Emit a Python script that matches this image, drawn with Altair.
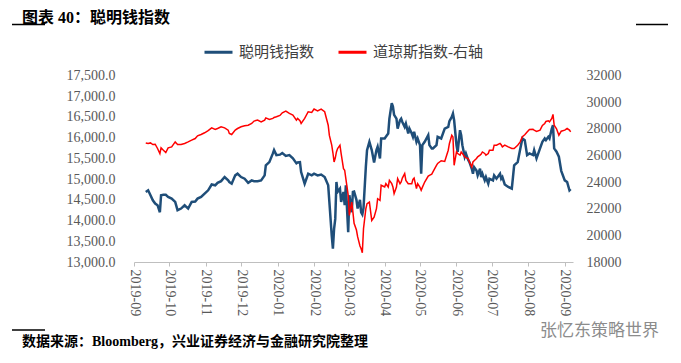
import altair as alt
import pandas as pd

dates = [
    "2019-09-11", "2019-09-13", "2019-09-15", "2019-09-17", "2019-09-19", "2019-09-21",
    "2019-09-23", "2019-09-24", "2019-09-26", "2019-09-28", "2019-09-30", "2019-10-03",
    "2019-10-06", "2019-10-08", "2019-10-11", "2019-10-14", "2019-10-17", "2019-10-20",
    "2019-10-23", "2019-10-25", "2019-10-28", "2019-10-31", "2019-11-03", "2019-11-06",
    "2019-11-09", "2019-11-11", "2019-11-14", "2019-11-17", "2019-11-20", "2019-11-21",
    "2019-11-23", "2019-11-26", "2019-11-28", "2019-12-01", "2019-12-04", "2019-12-07",
    "2019-12-10", "2019-12-12", "2019-12-15", "2019-12-18", "2019-12-21", "2019-12-22",
    "2019-12-25", "2019-12-28", "2019-12-29", "2019-12-31", "2020-01-03", "2020-01-05",
    "2020-01-08", "2020-01-11", "2020-01-14", "2020-01-17", "2020-01-18", "2020-01-20",
    "2020-01-21", "2020-01-24", "2020-01-27", "2020-01-30", "2020-02-01", "2020-02-04",
    "2020-02-07", "2020-02-10", "2020-02-13", "2020-02-14", "2020-02-16", "2020-02-17",
    "2020-02-18", "2020-02-19", "2020-02-20", "2020-02-21", "2020-02-23", "2020-02-24",
    "2020-02-26", "2020-02-27", "2020-02-28", "2020-03-01", "2020-03-02", "2020-03-04",
    "2020-03-05", "2020-03-06", "2020-03-08", "2020-03-09", "2020-03-11", "2020-03-12",
    "2020-03-13", "2020-03-14", "2020-03-16", "2020-03-17", "2020-03-19", "2020-03-21",
    "2020-03-23", "2020-03-25", "2020-03-26", "2020-03-28", "2020-03-29", "2020-04-01",
    "2020-04-02", "2020-04-04", "2020-04-05", "2020-04-07", "2020-04-08", "2020-04-09",
    "2020-04-11", "2020-04-12", "2020-04-14", "2020-04-15", "2020-04-16", "2020-04-18",
    "2020-04-19", "2020-04-21", "2020-04-22", "2020-04-24", "2020-04-25", "2020-04-26",
    "2020-04-28", "2020-04-29", "2020-05-01", "2020-05-02", "2020-05-03", "2020-05-05",
    "2020-05-08", "2020-05-09", "2020-05-11", "2020-05-12", "2020-05-15", "2020-05-16",
    "2020-05-19", "2020-05-22", "2020-05-25", "2020-05-26", "2020-05-28", "2020-05-29",
    "2020-05-30", "2020-06-01", "2020-06-02", "2020-06-04", "2020-06-05", "2020-06-06",
    "2020-06-08", "2020-06-09", "2020-06-11", "2020-06-12", "2020-06-14", "2020-06-15",
    "2020-06-16", "2020-06-18", "2020-06-19", "2020-06-21", "2020-06-22", "2020-06-23",
    "2020-06-25", "2020-06-26", "2020-06-28", "2020-06-29", "2020-07-02", "2020-07-03",
    "2020-07-05", "2020-07-08", "2020-07-09", "2020-07-10", "2020-07-12", "2020-07-15",
    "2020-07-18", "2020-07-19", "2020-07-20", "2020-07-23", "2020-07-25", "2020-07-27",
    "2020-07-29", "2020-07-31", "2020-08-02", "2020-08-05", "2020-08-06", "2020-08-08",
    "2020-08-11", "2020-08-13", "2020-08-15", "2020-08-16", "2020-08-18", "2020-08-19",
    "2020-08-21", "2020-08-22", "2020-08-23", "2020-08-25", "2020-08-27", "2020-08-29",
    "2020-09-01", "2020-09-03", "2020-09-05", "2020-09-06",
]

smart_money = [
    14690, 14730, 14610, 14490, 14410, 14370,
    14200, 14610, 14620, 14620, 14570, 14530,
    14450, 14250, 14290, 14370, 14290, 14450,
    14460, 14530, 14570, 14650, 14730, 14870,
    14850, 14910, 14950, 15050, 14970, 14930,
    14890, 15090, 15130, 15050, 15010, 14910,
    14970, 14950, 14950, 14970, 15090, 15330,
    15410, 15620, 15700, 15580, 15590, 15630,
    15560, 15580, 15500, 15380, 15400, 15410,
    15170, 14890, 15130, 15090, 15130, 15090,
    15110, 15050, 14850, 14450, 13640, 13320,
    13800, 14040, 14930, 14690, 14770, 14450,
    14690, 14370, 14850, 13720, 14610, 14200,
    14690, 14700, 14500, 14290, 14500, 14200,
    14150, 14300, 15300, 15700, 15900, 15700,
    15400, 15700, 15780, 15500, 15980, 15980,
    16020, 16100, 16460, 16830, 16750, 16550,
    16460, 16220, 16420, 16460, 16380, 16260,
    16340, 16100, 16220, 16100, 16020, 16140,
    15900, 15980, 15820, 15130, 15820, 15900,
    16060, 15820, 15740, 15740, 15820, 16020,
    15980, 16220, 16260, 16400, 16500, 16580,
    16420, 15820, 15660, 16180, 16060, 15820,
    15540, 15620, 15460, 15410, 15250, 15130,
    15290, 15210, 15090, 15250, 15050, 15130,
    14970, 15050, 14890, 15010, 14970, 15090,
    15010, 15130, 15010, 15050, 14870, 14810,
    14770, 15050, 15330, 15410, 15700, 15980,
    15940, 15580, 15620, 15580, 15700, 15500,
    15740, 15900, 15980, 15940, 16020, 15980,
    16220, 16300, 15740, 15660, 15540, 15200,
    14970, 14930, 14730, 14760,
]

dow_jones = [
    26940, 26900, 26940, 26820, 26840, 26520,
    26140, 26570, 26390, 26220, 26570, 26640,
    27020, 26820, 26820, 26900, 27020, 27150,
    27270, 27470, 27570, 27700, 27860, 28070,
    27950, 28020, 28150, 28070, 27900, 27650,
    27570, 27900, 28020, 28150, 28220, 28270,
    28400, 28580, 28650, 28520, 28650, 28820,
    28700, 28780, 28850, 28900, 29000, 29200,
    29330, 29150, 29030, 28650, 28780, 28600,
    28400, 28780, 29280, 29230, 29480, 29350,
    29480, 29280, 28270, 27500, 26770, 26200,
    25510, 25800, 26260, 26520, 26770, 26140,
    25010, 24890, 24260, 23000, 21500, 22500,
    21750, 20900, 20400, 19900, 19200, 18990,
    18700, 20500, 22000, 22380, 22500, 21120,
    21370, 22000, 22750, 22630, 23760, 23630,
    23880, 23630, 24130, 23880, 23630, 23130,
    23630, 24260, 23880, 24010, 24300, 24640,
    24130, 23880, 23880, 23880, 24200, 24300,
    23510, 23880, 23600, 23380, 23600, 24000,
    24450, 24510, 24600, 24760, 25260, 25400,
    25600, 25550, 26390, 26900, 27520, 27390,
    25260, 26260, 26140, 26020, 26260, 26140,
    25890, 25830, 25770, 25510, 25130, 25510,
    25600, 25770, 25900, 26020, 26100, 26260,
    26150, 26020, 26140, 26390, 26390, 26770,
    26770, 26900, 26800, 26640, 26770, 26640,
    26520, 26520, 26520, 26770, 27000, 27400,
    27550, 27750, 27950, 27960, 27900, 27800,
    27900, 28250, 28400, 28550, 28600, 28520,
    28780, 29080, 28270, 28000, 27520, 27820,
    27900, 28020, 27900, 27770,
]

left_ticks = [13000, 13500, 14000, 14500, 15000, 15500, 16000, 16500, 17000, 17500]
right_ticks = [18000, 20000, 22000, 24000, 26000, 28000, 30000, 32000]

S1 = "聪明钱指数"
S2 = "道琼斯指数-右轴"
BLUE = "#1F4E79"
RED = "#FF0000"
GRAY = "#595959"
SERIF = "Liberation Serif, Noto Sans CJK SC, serif"

df1 = pd.DataFrame({"date": dates, "value": smart_money, "series": S1})
df2 = pd.DataFrame({"date": dates, "value": dow_jones, "series": S2})
one = pd.DataFrame({"k": [0]})

x_enc = alt.X(
    "date:T",
    scale=alt.Scale(
        type="utc",
        domain=[
            alt.DateTime(year=2019, month=9, date=1, utc=True),
            alt.DateTime(year=2020, month=9, date=8, utc=True),
        ],
    ),
    axis=alt.Axis(
        title=None, format="%Y-%m", tickCount={"interval": "month", "step": 1},
        labelAngle=90, labelFlush=False, labelOverlap=False, grid=False,
        domainColor="#BFBFBF", tickColor="#BFBFBF", tickSize=4,
        labelFont=SERIF, labelFontSize=14, labelColor=GRAY, labelPadding=3,
    ),
)

color_enc = alt.Color(
    "series:N",
    scale=alt.Scale(domain=[S1, S2], range=[BLUE, RED]),
    legend=alt.Legend(
        title=None, orient="none", legendX=69, legendY=-39, direction="horizontal",
        symbolType="stroke", symbolSize=784, symbolStrokeWidth=3,
        labelFont=SERIF, labelFontSize=15, labelColor="#404040",
        columnPadding=17, labelOffset=5, padding=0,
    ),
)

blue = alt.Chart(df1).mark_line(strokeWidth=2.5).encode(
    x=x_enc,
    y=alt.Y(
        "value:Q",
        scale=alt.Scale(domain=[13000, 17500], nice=False, zero=False),
        axis=alt.Axis(
            orient="left", values=left_ticks, format=",.1f", title=None, grid=False,
            domain=False, ticks=False, labelPadding=19, labelFont=SERIF,
            labelFontSize=14, labelColor=GRAY,
        ),
    ),
    color=color_enc,
)

red = alt.Chart(df2).mark_line(strokeWidth=1.5).encode(
    x=x_enc,
    y=alt.Y(
        "value:Q",
        scale=alt.Scale(domain=[18000, 32000], nice=False, zero=False),
        axis=alt.Axis(
            orient="right", values=right_ticks, format="d", title=None, grid=False,
            domain=False, ticks=False, labelPadding=13, labelFont=SERIF,
            labelFontSize=14, labelColor=GRAY,
        ),
    ),
    color=color_enc,
)

title_txt = alt.Chart(one).mark_text(
    text="图表 40：聪明钱指数", align="left", baseline="alphabetic",
    font=SERIF, fontSize=16, fontWeight="bold", color="#000000",
).encode(x=alt.value(-112), y=alt.value(-53))

source_txt = alt.Chart(one).mark_text(
    text="数据来源：Bloomberg，兴业证券经济与金融研究院整理", align="left",
    baseline="alphabetic", font=SERIF, fontSize=14, fontWeight="bold", color="#000000",
).encode(x=alt.value(-112), y=alt.value(270))

mark_txt = alt.Chart(one).mark_text(
    text="张忆东策略世界", align="left", baseline="middle",
    font="Noto Sans CJK SC", fontSize=17, color="#8C8C8C",
).encode(x=alt.value(406), y=alt.value(255))

rule_tl = alt.Chart(one).mark_rule(color="#000000", strokeWidth=1.5).encode(
    x=alt.value(-122), x2=alt.value(-89), y=alt.value(-51))
rule_tr = alt.Chart(one).mark_rule(color="#000000", strokeWidth=1.5).encode(
    x=alt.value(502), x2=alt.value(534), y=alt.value(-51))
rule_bl = alt.Chart(one).mark_rule(color="#000000", strokeWidth=1.5).encode(
    x=alt.value(-122), x2=alt.value(-89), y=alt.value(254.5))

chart = alt.layer(
    blue, red, title_txt, source_txt, mark_txt, rule_tl, rule_tr, rule_bl
).resolve_scale(y="independent").properties(
    width=439, height=186.5,
    padding={"left": 126, "top": 67.5, "right": 100, "bottom": 93},
    autosize=alt.AutoSizeParams(type="none"),
).configure_view(stroke=None)

chart.save("out.html", embed_options={"renderer": "svg", "actions": False})
